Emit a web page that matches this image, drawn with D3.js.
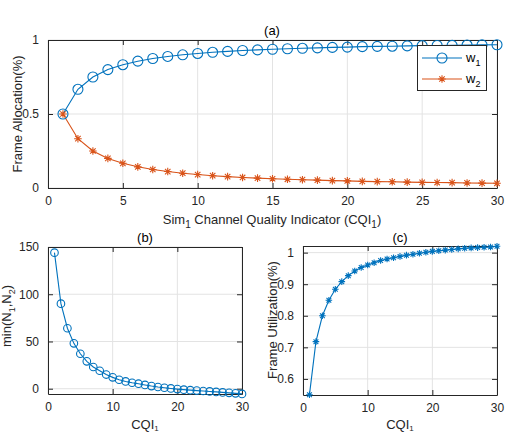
<!DOCTYPE html>
<html><head><meta charset="utf-8">
<script src="https://cdn.jsdelivr.net/npm/d3@7"></script>
<style>
body{margin:0;background:#fff;}
text{font-family:"Liberation Sans",Arial,Helvetica,sans-serif;}
</style></head>
<body><svg id="chart" width="505" height="432"></svg>
<script>
const cqi = [1,2,3,4,5,6,7,8,9,10,11,12,13,14,15,16,17,18,19,20,21,22,23,24,25,26,27,28,29,30];
const w1 = [0.5,0.667,0.75,0.8,0.833,0.857,0.875,0.889,0.9,0.909,0.917,0.923,0.929,0.933,0.9375,0.941,0.944,0.947,0.95,0.952,0.955,0.957,0.958,0.96,0.962,0.963,0.964,0.966,0.967,0.968];
const w2 = [0.5,0.333,0.25,0.2,0.167,0.143,0.125,0.111,0.1,0.091,0.083,0.077,0.071,0.067,0.0625,0.059,0.056,0.053,0.05,0.048,0.045,0.043,0.042,0.04,0.038,0.037,0.036,0.034,0.033,0.032];
const minN = [144,90,64,48,37,29,23,19,15,12,9.5,7.7,6.3,5.3,4,2.8,1.8,1,0.3,-0.4,-1.0,-1.5,-2.0,-2.4,-2.9,-3.4,-3.9,-4.4,-4.9,-5.5];
const util = [0.55,0.718,0.80,0.849,0.884,0.908,0.927,0.942,0.953,0.961,0.968,0.975,0.980,0.984,0.988,0.992,0.995,0.998,1.001,1.004,1.006,1.008,1.010,1.012,1.014,1.015,1.016,1.017,1.018,1.020];
const ticksAX = [0,5,10,15,20,25,30];
const ticksAY = [0,0.5,1];
const ticksBX = [0,10,20,30];
const ticksBY = [0,50,100,150];
const ticksCY = [0.6,0.7,0.8,0.9,1];

const BLUE="#0072BD", ORANGE="#D95319", AX="#262626", GRID="#e3e3e3";
const svg = d3.select("#chart");

function panel(x0,x1,y0,y1,xd,yd,xt,yt,yfmt){
  const x = d3.scaleLinear().domain(xd).range([x0,x1]);
  const y = d3.scaleLinear().domain(yd).range([y1,y0]);
  const g = svg.append("g");
  g.selectAll(".gx").data(xt).enter().append("line")
    .attr("x1",d=>x(d)).attr("x2",d=>x(d)).attr("y1",y0).attr("y2",y1)
    .attr("stroke",GRID).attr("stroke-width",1);
  g.selectAll(".gy").data(yt).enter().append("line")
    .attr("y1",d=>y(d)).attr("y2",d=>y(d)).attr("x1",x0).attr("x2",x1)
    .attr("stroke",GRID).attr("stroke-width",1);
  const tl = 5;
  g.append("g").attr("transform",`translate(0,${y1})`)
    .call(d3.axisBottom(x).tickValues(xt).tickSizeInner(-tl).tickSizeOuter(0).tickPadding(8).tickFormat(d3.format("d")))
    .call(s=>{s.select(".domain").attr("stroke",AX);s.selectAll("line").attr("stroke",AX);
      s.selectAll("text").attr("fill",AX).attr("font-size",12).attr("font-family","Liberation Sans, Arial, sans-serif");});
  g.append("g").attr("transform",`translate(0,${y0})`)
    .call(d3.axisTop(x).tickValues(xt).tickSizeInner(-tl).tickSizeOuter(0).tickFormat(""))
    .call(s=>{s.select(".domain").attr("stroke",AX);s.selectAll("line").attr("stroke",AX);});
  g.append("g").attr("transform",`translate(${x0},0)`)
    .call(d3.axisLeft(y).tickValues(yt).tickSizeInner(-tl).tickSizeOuter(0).tickPadding(9).tickFormat(yfmt))
    .call(s=>{s.select(".domain").attr("stroke",AX);s.selectAll("line").attr("stroke",AX);
      s.selectAll("text").attr("fill",AX).attr("font-size",12).attr("font-family","Liberation Sans, Arial, sans-serif");});
  g.append("g").attr("transform",`translate(${x1},0)`)
    .call(d3.axisRight(y).tickValues(yt).tickSizeInner(-tl).tickSizeOuter(0).tickFormat(""))
    .call(s=>{s.select(".domain").attr("stroke",AX);s.selectAll("line").attr("stroke",AX);});
  return {x,y,g};
}

function drawLine(p,xs,ys,color){
  const line = d3.line().x((d,i)=>p.x(xs[i])).y(d=>p.y(d));
  p.g.append("path").datum(ys).attr("d",line).attr("fill","none").attr("stroke",color).attr("stroke-width",1.1);
}
function circles(g,pts,r,color){
  g.selectAll(null).data(pts).enter().append("circle")
    .attr("cx",d=>d[0]).attr("cy",d=>d[1]).attr("r",r)
    .attr("fill","none").attr("stroke",color).attr("stroke-width",1.1);
}
function stars(g,pts,s,color){
  const k = s*0.72;
  const path = d=>`M${d[0]-s},${d[1]}H${d[0]+s}M${d[0]},${d[1]-s}V${d[1]+s}`+
    `M${d[0]-k},${d[1]-k}L${d[0]+k},${d[1]+k}M${d[0]-k},${d[1]+k}L${d[0]+k},${d[1]-k}`;
  g.selectAll(null).data(pts).enter().append("path")
    .attr("d",path).attr("fill","none").attr("stroke",color).attr("stroke-width",1.1);
}

// Panel (a)
const pa = panel(48,497,40,188,[0,30],[0,1],ticksAX,ticksAY,d=>d===0.5?"0.5":d3.format("d")(d));
drawLine(pa,cqi,w1,BLUE);
drawLine(pa,cqi,w2,ORANGE);
stars(pa.g,w2.map((v,i)=>[pa.x(cqi[i]),pa.y(v)]),3.8,ORANGE);
circles(pa.g,w1.map((v,i)=>[pa.x(cqi[i]),pa.y(v)]),5,BLUE);
svg.append("text").attr("x",272).attr("y",35).attr("text-anchor","middle").attr("font-size",13).attr("fill","#000").text("(a)");
svg.append("text").attr("transform","translate(22,114) rotate(-90)").attr("text-anchor","middle").attr("font-size",13).attr("fill",AX).text("Frame Allocation(%)");
const xl = svg.append("text").attr("x",272).attr("y",224).attr("text-anchor","middle").attr("font-size",13).attr("fill",AX);
xl.append("tspan").text("Sim");
xl.append("tspan").attr("dy",4).attr("font-size",10).text("1");
xl.append("tspan").attr("dy",-4).text(" Channel Quality Indicator (CQI");
xl.append("tspan").attr("dy",4).attr("font-size",10).text("1");
xl.append("tspan").attr("dy",-4).text(")");

// Legend
const lg = svg.append("g");
lg.append("rect").attr("x",417.5).attr("y",45.5).attr("width",69).attr("height",45).attr("fill","#fff").attr("stroke",AX).attr("stroke-width",1);
const legItems = [{name:"w",sub:"1",color:BLUE,mk:"o",y:58},{name:"w",sub:"2",color:ORANGE,mk:"*",y:79}];
legItems.forEach(it=>{
  lg.append("line").attr("x1",422).attr("x2",462).attr("y1",it.y).attr("y2",it.y).attr("stroke",it.color).attr("stroke-width",1.1);
  if(it.mk==="o") circles(lg,[[442,it.y]],5,it.color); else stars(lg,[[442,it.y]],3.8,it.color);
  const t = lg.append("text").attr("x",466).attr("y",it.y+4).attr("font-size",13).attr("fill","#000");
  t.append("tspan").text(it.name);
  t.append("tspan").attr("dy",4).attr("font-size",9).text(it.sub);
});

// Panel (b)
const pb = panel(48,242,247,394,[0,30],[-5.6,150],ticksBX,ticksBY,d3.format("d"));
drawLine(pb,cqi,minN,BLUE);
circles(pb.g,minN.map((v,i)=>[pb.x(cqi[i]),pb.y(v)]),3.8,BLUE);
svg.append("text").attr("x",145).attr("y",242).attr("text-anchor","middle").attr("font-size",13).attr("fill","#000").text("(b)");
const yb = svg.append("text").attr("transform","translate(11,316) rotate(-90)").attr("text-anchor","middle").attr("font-size",13).attr("fill",AX);
yb.append("tspan").text("min(N");
yb.append("tspan").attr("dy",4).attr("font-size",9).text("1");
yb.append("tspan").attr("dy",-4).text(",N");
yb.append("tspan").attr("dy",4).attr("font-size",9).text("2");
yb.append("tspan").attr("dy",-4).text(")");
const xb = svg.append("text").attr("x",145).attr("y",429).attr("text-anchor","middle").attr("font-size",13).attr("fill",AX);
xb.append("tspan").text("CQI");
xb.append("tspan").attr("dy",2).attr("font-size",8).text("1");

// Panel (c)
const pc = panel(303,497,246,395,[0,30],[0.549,1.021],ticksBX,ticksCY,d=>d===1?"1":d3.format(".1f")(d));
drawLine(pc,cqi,util,BLUE);
stars(pc.g,util.map((v,i)=>[pc.x(cqi[i]),pc.y(v)]),3.3,BLUE);
svg.append("text").attr("x",400).attr("y",242).attr("text-anchor","middle").attr("font-size",13).attr("fill","#000").text("(c)");
svg.append("text").attr("transform","translate(277,320) rotate(-90)").attr("text-anchor","middle").attr("font-size",13).attr("fill",AX).text("Frame Utilization(%)");
const xc = svg.append("text").attr("x",400).attr("y",429).attr("text-anchor","middle").attr("font-size",13).attr("fill",AX);
xc.append("tspan").text("CQI");
xc.append("tspan").attr("dy",2).attr("font-size",8).text("1");
</script></body></html>
